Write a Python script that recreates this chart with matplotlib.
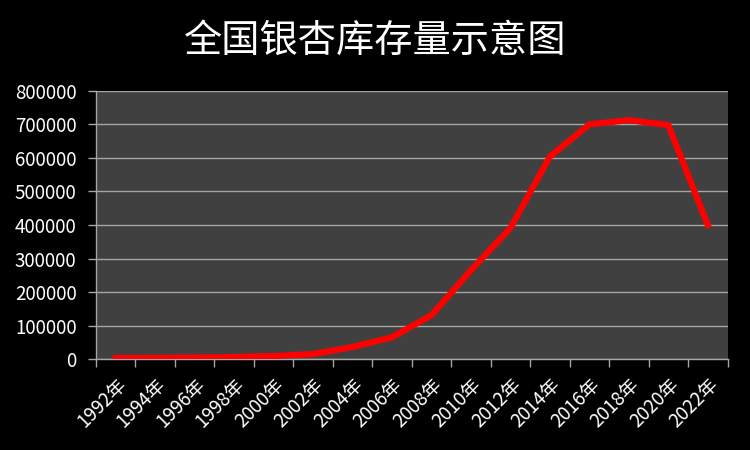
import matplotlib
matplotlib.use('Agg')
import matplotlib.pyplot as plt
import numpy as np

plt.rcParams['font.family'] = ['Noto Sans CJK SC', 'DejaVu Sans']

years = ['1992年', '1994年', '1996年', '1998年', '2000年', '2002年', '2004年', '2006年',
         '2008年', '2010年', '2012年', '2014年', '2016年', '2018年', '2020年', '2022年']
stock = [3000, 3500, 4500, 6000, 9000, 15000, 36000, 65000,
         131000, 265000, 391000, 604000, 700000, 713000, 698000, 400000]
y_ticks = [0, 100000, 200000, 300000, 400000, 500000, 600000, 700000, 800000]

fig = plt.figure(figsize=(7.5, 4.5), dpi=100, facecolor='black')
ax = fig.add_axes([0.128, 0.202, 0.842, 0.596])
ax.set_facecolor('#404040')

x = np.arange(len(years))
ax.plot(x, stock, color='#ff0000', linewidth=4.5, solid_joinstyle='miter', zorder=3)

ax.set_xlim(-0.5, len(years) - 0.5)
ax.set_ylim(0, 800000)
ax.set_yticks(y_ticks)
ax.set_yticklabels([str(v) for v in y_ticks], color='white', fontsize=13.5)
ax.yaxis.grid(True, color='#a6a6a6', linewidth=1)
ax.set_axisbelow(True)

ax.set_xticks(np.arange(-0.5, len(years)), labels=[])
ax.set_xticks(x, minor=True)
ax.set_xticklabels(years, minor=True, rotation=45, ha='right', rotation_mode='anchor',
                   color='white', fontsize=13.5)
ax.tick_params(axis='x', which='minor', length=0, pad=11)
ax.tick_params(axis='x', which='major', length=6, color='#a6a6a6', width=1)
ax.tick_params(axis='y', length=6, color='#a6a6a6', width=1, pad=8)

for s in ['top', 'right']:
    ax.spines[s].set_visible(False)
for s in ['left', 'bottom']:
    ax.spines[s].set_color('#a6a6a6')
    ax.spines[s].set_linewidth(1)

fig.text(0.5, 0.908, '全国银杏库存量示意图', color='white', fontsize=27.5, ha='center', va='center')

fig.savefig('out.png', dpi=100, facecolor='black')
